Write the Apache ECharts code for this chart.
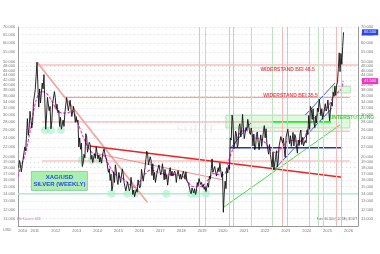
<!DOCTYPE html>
<html><head><meta charset="utf-8">
<script src="https://cdn.jsdelivr.net/npm/echarts@6/dist/echarts.min.js"></script>
<style>html,body{margin:0;padding:0;background:#fff}#c{width:380px;height:254px}</style>
</head><body><div id="c"></div>
<script>
// ---------- DATA ----------
const firstYear = 2010, firstMonth = 5; // June 2010
// monthly extremes in order of occurrence (USD)
const silver2010 = [[18.0,19.3],[18.6,17.3],[17.6,19.5],[19.2,22.0],[21.2,24.6],[28.9,24.6],[26.5,31.0]];
const silver2011 = [[31.0,26.4],[27.8,34.0],[33.5,38.2],[37.5,49.8],[49.0,32.3],[38.5,33.6],[33.7,40.7],[38.5,44.2],[43.5,26.1],[29.9,35.5],[35.4,31.2],[32.5,26.2]];
const silver2012 = [[28.0,33.5],[33.0,37.5],[35.4,31.8],[33.2,30.6],[31.3,26.8],[29.3,26.1],[26.2,28.5],[26.8,30.5],[30.5,35.4],[34.8,31.2],[31.2,34.5],[34.0,29.5]];
const silver2013 = [[29.6,32.5],[32.5,27.9],[29.5,27.9],[28.5,22.0],[24.0,21.5],[22.8,18.2],[18.8,20.5],[19.8,25.0],[24.5,20.9],[20.6,23.0],[22.5,19.5],[20.3,18.9]];
const silver2014 = [[19.2,20.6],[19.7,22.0],[21.9,19.6],[20.3,19.0],[19.9,18.8],[18.6,21.0],[21.6,20.5],[20.6,19.3],[19.5,17.2],[17.8,15.9],[16.9,14.4],[15.1,17.3]];
const silver2015 = [[15.6,18.5],[17.5,16.0],[15.3,17.2],[17.0,15.6],[15.8,17.8],[16.9,15.6],[15.7,14.4],[14.3,15.7],[15.5,14.4],[14.7,16.4],[15.2,13.9],[14.5,13.6]];
const silver2016 = [[13.6,14.6],[14.2,16.0],[16.0,14.8],[15.1,17.7],[17.8,15.8],[15.7,18.0],[18.3,21.1],[20.6,18.5],[18.6,20.0],[19.3,16.7],[18.7,16.0],[17.2,15.6]];
const silver2017 = [[15.9,17.3],[17.0,18.5],[18.4,16.8],[17.2,18.7],[17.4,16.0],[17.7,16.1],[16.8,15.2],[16.3,17.4],[18.0,16.6],[17.4,16.6],[16.6,17.4],[17.0,15.6]];
const silver2018 = [[16.9,17.5],[17.3,16.1],[16.9,16.1],[16.3,17.4],[16.9,16.1],[17.3,15.9],[16.2,15.4],[15.6,14.3],[14.0,14.8],[14.9,14.1],[14.7,13.9],[14.3,15.6]];
const silver2019 = [[15.1,16.2],[16.2,15.3],[15.6,14.9],[15.3,14.6],[15.0,14.3],[14.4,15.5],[14.9,16.6],[16.1,17.6],[19.6,17.2],[17.0,18.2],[18.0,16.6],[16.6,18.0]];
const silver2020 = [[17.3,18.8],[18.8,16.4],[17.3,11.7],[14.0,15.8],[14.7,17.9],[17.1,18.4],[17.7,24.0],[23.5,29.9],[28.0,21.6],[22.9,25.6],[25.0,21.9],[22.5,26.8]];
const silver2021 = [[27.5,24.2],[25.9,30.1],[26.5,23.8],[24.0,26.5],[25.8,28.7],[28.3,25.6],[24.8,26.4],[25.0,22.2],[24.9,21.4],[21.9,24.8],[25.4,23.0],[21.4,23.4]];
const silver2022 = [[24.7,22.1],[22.0,25.5],[27.0,24.0],[26.2,22.6],[22.8,20.5],[22.5,20.4],[20.3,18.1],[20.9,17.6],[17.6,19.9],[21.2,18.1],[19.3,22.2],[22.0,24.3]];
const silver2023 = [[24.5,22.8],[23.9,21.3],[19.9,24.2],[24.1,26.1],[26.1,22.7],[24.5,22.1],[22.5,25.3],[22.2,24.8],[24.2,22.0],[20.7,23.5],[22.3,25.0],[25.9,22.5]];
const silver2024 = [[24.1,22.2],[22.3,23.4],[22.9,25.8],[24.8,29.8],[26.1,32.5],[31.6,28.7],[31.8,27.9],[26.5,29.6],[27.7,32.0],[30.9,34.9],[32.6,29.7],[31.8,28.7]];
const silver2025 = [[28.8,31.6],[33.4,31.1],[31.9,34.6],[34.6,28.3],[31.6,33.8],[32.6,37.3],[35.9,39.5],[36.2,39.9],[41.0,47.0],[54.5,45.5],[54.2,48.8],[58.0,66.5]];
// 40-week moving average, read at quarter starts (first value at left edge)
const maStart = 2010.42;
const maValues = [16.5,17.8,20.5,26.0,34.0,37.5,37.0,34.5,31.5,30.5,30.5,31.2,28.0,24.5,22.0,20.6,20.2,20.2,18.5,17.0,16.5,16.0,15.3,14.9,15.8,17.0,17.6,17.4,17.0,16.9,16.9,16.8,16.6,15.9,15.0,15.0,15.1,16.0,17.0,16.8,16.8,19.5,22.3,25.0,25.9,25.2,24.0,23.8,22.8,21.3,20.8,21.8,23.1,23.4,23.3,23.4,25.8,28.6,30.0,31.0,32.5,35.8];
const maEnd = [[2025.87,38.5],[2025.96,41.5]];
// tick labels
const yTicks = [11,12,13,14,15,16,17,18,19,20,22,24,26,28,30,32,34,36,38,40,42,44,46,48,50,55,60,65,70];
const xTicks = [2010.415,2011,2012,2013,2014,2015,2016,2017,2018,2019,2020,2021,2022,2023,2024,2025,2026];
// annotations (year, price)
const pinkDiag = [[2011.32,49.8],[2016.59,12.9]];
const pinkDiag2 = [[2014.20,20.6],[2020.20,16.0]];
const redLine = [[2013.84,22.2],[2025.91,16.4]];
const greenRise = [[2020.25,12.3],[2025.81,27.2]];
const blueFlat = [[2020.49,21.8],[2025.91,21.8]];
const blueShort = [[2020.59,21.8],[2021.54,27.7]];
const blueLow = [[2022.72,17.9],[2025.43,32.0]];
const blueHigh = [[2024.15,29.9],[2025.57,40.8]];
const resist485 = [[2011.32,48.5],[2026.67,48.5]];
const resist355 = [[2012.60,35.5],[2026.28,35.5]];
const pink28 = [[2011.55,28.0],[2022.54,28.0]];
const pink256 = [[2021.55,25.6],[2026.28,25.6]];
const pink192 = [[2011.55,19.2],[2026.28,19.2]];
const support28 = [[2022.54,28.0],[2025.38,28.0]];
const support14 = [[2010.415,14.0],[2026.67,14.0]];
const supportBand = [[2020.35,26.4],[2026.28,29.9]];
const upperBand = [[2025.45,37.0],[2026.30,39.5]];
const circles = [[2011.70,25.9],[2011.98,25.9],[2012.46,25.9],[2013.46,19.4],[2013.93,19.4],[2014.31,19.4],[2014.88,14.0],[2015.64,14.0],[2015.98,14.0],[2017.50,14.0],[2018.69,14.0],[2018.92,14.0],[2019.40,14.0],[2022.63,18.1]];
const pinkVerticals = [2019.07,2020.49,2020.68,2023.05,2023.29,2024.34,2025.62,2025.86];
const greenVerticals = [2019.35,2021.58,2022.58,2024.76,2025.00];
const textNotes = [
  { at: [2023.30, 46.6], text: 'WIDERSTAND BEI 48.5', color: '#e8202a' },
  { at: [2023.44, 36.1], text: 'WIDERSTAND BEI 35.5', color: '#e8202a' },
  { at: [2026.38, 29.3], text: 'UNTERSTÜTZUNG', color: '#22bb22' }
];

// ---------- BUILD ----------
const yearsData = [silver2010,silver2011,silver2012,silver2013,silver2014,silver2015,silver2016,silver2017,silver2018,silver2019,silver2020,silver2021,silver2022,silver2023,silver2024,silver2025];
const pricePts = [];
yearsData.forEach((arr, yi) => arr.forEach((pair, mi) => {
  const m = (yi === 0 ? firstMonth : 0) + mi;
  const y = firstYear + yi;
  pricePts.push([y + (m + 0.25) / 12, pair[0]], [y + (m + 0.75) / 12, pair[1]]);
}));
const maPts = maValues.map((v, i) => [i === 0 ? maStart : 2010.5 + (i - 1) * 0.25, v]).concat(maEnd);
const lastPrice = pricePts[pricePts.length - 1][1];
const lastMA = maEnd[maEnd.length - 1][1];

function seg(data, color, width, opacity, type) {
  return { type: 'line', data: data, showSymbol: false, symbol: 'none', silent: true, animation: false,
    lineStyle: { color: color, width: width, opacity: opacity == null ? 1 : opacity, type: type || 'solid' }, z: 3 };
}
const fmtY = v => Number(v).toFixed(3);
const axisY = (pos) => ({
  type: 'log', logBase: 10, min: 10.25, max: 70, position: pos,
  axisLine: { show: true, lineStyle: { color: '#999', width: 1 } },
  axisTick: { show: false, customValues: yTicks },
  axisLabel: { customValues: yTicks, formatter: fmtY, fontSize: 4, color: '#777', margin: 3, fontFamily: 'Liberation Sans' },
  splitLine: { show: pos === 'left', lineStyle: { color: '#d6d6d6', type: [1, 3], width: 1 } }
});

const option = {
  animation: false,
  grid: { left: 16, right: 22, top: 27, bottom: 28 },
  xAxis: {
    type: 'value', min: 2010.415, max: 2026.67,
    axisLine: { show: true, lineStyle: { color: '#999' } },
    axisTick: { show: false, customValues: xTicks },
    axisLabel: { customValues: xTicks, formatter: v => String(Math.floor(v + 1e-6)), fontSize: 4, color: '#777', align: 'left', margin: 3, fontFamily: 'Liberation Sans' },
    splitLine: { show: false }
  },
  yAxis: [axisY('left'), axisY('right')],
  series: [
    { type: 'line', data: [], silent: true, markLine: { symbol: 'none', silent: true, animation: false, label: { show: false },
        lineStyle: { color: '#f6b8b8', width: 1, type: 'solid' }, data: pinkVerticals.map(x => ({ xAxis: x })) } },
    { type: 'line', data: [], silent: true, markLine: { symbol: 'none', silent: true, animation: false, label: { show: false },
        lineStyle: { color: '#bfe3bf', width: 1, type: 'solid' }, data: greenVerticals.map(x => ({ xAxis: x })) } },
    { type: 'line', data: [], silent: true, markArea: { silent: true, itemStyle: { color: 'rgba(170,235,170,0.35)', borderColor: '#a6dca6', borderWidth: 0.8 },
        data: [[{ coord: supportBand[0] }, { coord: supportBand[1] }], [{ coord: upperBand[0] }, { coord: upperBand[1] }]] } },
    seg(support14, '#a8f0cc', 1.5),
    seg(pink192, '#f7a8a8', 1),
    seg(pink28, '#f7a8a8', 1),
    seg(pink256, '#f7a8a8', 1),
    seg(resist485, '#f7a0a0', 1.2),
    seg(resist355, '#f7a0a0', 1.2),
    seg(pinkDiag, '#f5a3a3', 1.8),
    seg(pinkDiag2, '#f08a8a', 1),
    seg(redLine, '#ee2222', 1.6),
    seg(greenRise, '#44dd44', 1),
    seg(blueFlat, '#2233cc', 1.5),
    seg(blueShort, '#3355ee', 1),
    seg(blueLow, '#3355ee', 1),
    seg(blueHigh, '#3355ee', 1),
    seg(support28, '#22ee22', 1.6),
    { type: 'scatter', data: circles, symbolSize: 8, silent: true, itemStyle: { color: 'rgba(140,235,185,0.6)' }, z: 2 },
    // moving average
    Object.assign(seg(maPts, '#ff2fc0', 1.1, 1, [3, 1.5]), { z: 4, smooth: 0.3,
      markLine: { symbol: 'none', silent: true, lineStyle: { width: 0 },
        data: [{ yAxis: lastMA, label: { show: true, position: 'end', formatter: fmtY(lastMA), backgroundColor: '#ee35c0', color: '#fff', fontSize: 4, padding: [1, 2], distance: 4 } }] } }),
    // price
    Object.assign(seg(pricePts, '#111', 0.9), { z: 5,
      markLine: { symbol: 'none', silent: true, lineStyle: { width: 0 },
        data: [{ yAxis: lastPrice, label: { show: true, position: 'end', formatter: fmtY(lastPrice), backgroundColor: '#2a45e8', color: '#fff', fontSize: 4, padding: [1, 2], distance: 4 } }] } }),
    // text notes
    { type: 'scatter', silent: true, z: 8, symbolSize: 1, itemStyle: { color: 'rgba(0,0,0,0)' },
      data: textNotes.map(n => ({ value: n.at, label: { show: true, position: 'inside', formatter: n.text, color: n.color, fontSize: 5, fontWeight: 'bold', fontFamily: 'Liberation Sans' } })) }
  ],
  graphic: [
    { type: 'text', left: 176, top: 123, z: 0, style: { text: 'SOLIT', fill: 'rgba(0,0,0,0.05)', font: 'bold 13px Liberation Serif' } },
    { type: 'group', left: 31, top: 171, z: 10, children: [
      { type: 'rect', shape: { x: 0, y: 0, width: 56, height: 19 }, style: { fill: '#a9f0b0', stroke: '#79c98a', lineWidth: 0.8 } },
      { type: 'text', style: { x: 28, y: 2.5, text: 'XAG/USD\nSILVER (WEEKLY)', align: 'center', fill: '#1f4fe0', font: 'bold 6px Liberation Sans', lineHeight: 7 } }
    ] },
    { type: 'text', left: 17, top: 218, style: { text: 'Alle Kurse in USD', fill: '#ee55bb', font: '3px Liberation Sans' } },
    { type: 'text', right: 23, top: 218, style: { text: 'Kurs: ' + fmtY(lastPrice) + ' (CLOSE), SOLIT', fill: '#555', font: '3px Liberation Sans' } },
    { type: 'text', left: 3, top: 228, style: { text: 'USD', fill: '#777', font: '4px Liberation Sans' } }
  ]
};
echarts.init(document.getElementById('c'), null, { renderer: 'canvas' }).setOption(option);
</script></body></html>
